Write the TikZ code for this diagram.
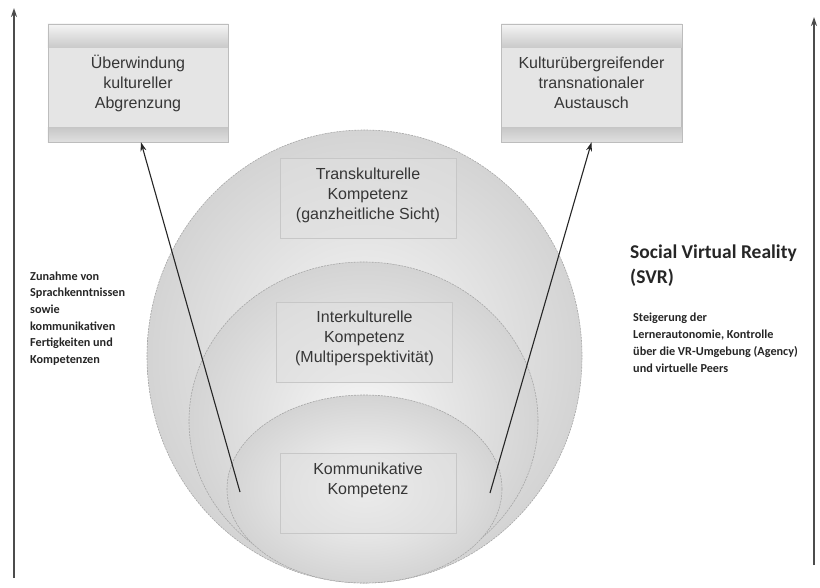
\documentclass[tikz,border=0pt]{standalone}
\usepackage{fontspec}
\setmainfont{Liberation Sans}
\newfontfamily\calfont{Carlito}
\usetikzlibrary{arrows.meta,calc}
\definecolor{txt}{HTML}{363636}
\tikzset{
 circ/.style={draw=black!35, line width=0.6pt, dash pattern=on 2pt off 1pt, inner color=black!3, outer color=black!17},
 topbox/.style={draw=black!26, line width=0.5pt, fill=black!10, minimum width=180pt, minimum height=118pt, inner sep=0pt},
 boxtext/.style={font=\fontsize{16}{20}\selectfont, text=txt, align=center, inner sep=0pt},
 compbox/.style={draw=black!22, fill=black!12, fill opacity=0.5, minimum width=176pt, minimum height=80pt, inner sep=0pt},
 diag/.style={-{Stealth[length=9pt,width=6pt]}, line width=1.1pt, black!85},
 vert/.style={-{Stealth[length=9pt,width=6pt]}, line width=1.5pt, black!70},
 sidetext/.style={font=\calfont\bfseries\fontsize{12.2}{16.6}\selectfont, text=black!85, align=left, anchor=north west, inner sep=0pt},
}
\begin{document}
\begin{tikzpicture}[x=1pt,y=-1pt]
\useasboundingbox (0,0) rectangle (820,587);
\fill[white] (0,0) rectangle (820,587);
% circles
\path[circ, shade] (364.5,356.5) ellipse [x radius=217.5pt, y radius=226.5pt];
\path[circ, shade] (363.5,421) ellipse [x radius=174.5pt, y radius=159pt];
\path[circ, shade] (364.5,489) ellipse [x radius=137.5pt, y radius=94pt];
% competence boxes
\node[compbox] (trans) at (368,198.5) {};
\node[boxtext] (transt) at (368,195) {Transkulturelle\\Kompetenz\\(ganzheitliche Sicht)};
\node[compbox] (inter) at (364.5,342) {};
\node[boxtext] (intert) at (364.5,338) {Interkulturelle\\Kompetenz\\(Multiperspektivität)};
\node[compbox] (kom) at (368,493.5) {};
\node[boxtext] (komt) at (368,480) {Kommunikative\\Kompetenz};
% top boxes
\node[topbox] (uew) at (138,83) {};
\shade[top color=black!4, bottom color=black!21] (uew.north west) rectangle ($(uew.north east)+(0,24)$);
\shade[top color=black!22, bottom color=black!12] ($(uew.south west)+(0,-15)$) rectangle (uew.south east);
\draw[black!26, line width=0.5pt] (uew.north west) rectangle (uew.south east);
\node[boxtext] (uewt) at (uew) {Überwindung\\kultureller\\Abgrenzung};
\node[topbox] (kul) at (591.5,83) {};
\shade[top color=black!4, bottom color=black!21] (kul.north west) rectangle ($(kul.north east)+(0,24)$);
\shade[top color=black!22, bottom color=black!12] ($(kul.south west)+(0,-15)$) rectangle (kul.south east);
\draw[black!26, line width=0.5pt] (kul.north west) rectangle (kul.south east);
\node[boxtext] (kult) at (kul) {Kulturübergreifender\\transnationaler\\Austausch};
% diagonal arrows
\coordinate (ls) at (240,492);
\coordinate (rs) at (490,493);
\draw[diag] (ls) -- ([xshift=3pt]uew.south);
\draw[diag] (rs) -- (kul.south);
% vertical arrows
\coordinate (lb) at (14,578);
\coordinate (lt) at (14,8);
\coordinate (rb) at (814,565);
\coordinate (rt) at (814,17);
\draw[vert] (lb) -- (lt);
\draw[vert] (rb) -- (rt);
% side texts
\node[sidetext] (left) at (30,271.5) {Zunahme von\\Sprachkenntnissen\\sowie\\kommunikativen\\Fertigkeiten und\\Kompetenzen};
\node[sidetext, font=\calfont\bfseries\fontsize{19.5}{25}\selectfont] (svr) at (630,245) {Social Virtual Reality\\(SVR)};
\node[sidetext, font=\calfont\bfseries\fontsize{12.2}{17}\selectfont] (steig) at (633,312.5) {Steigerung der\\Lernerautonomie, Kontrolle\\über die VR-Umgebung (Agency)\\und virtuelle Peers};
\end{tikzpicture}
\end{document}
